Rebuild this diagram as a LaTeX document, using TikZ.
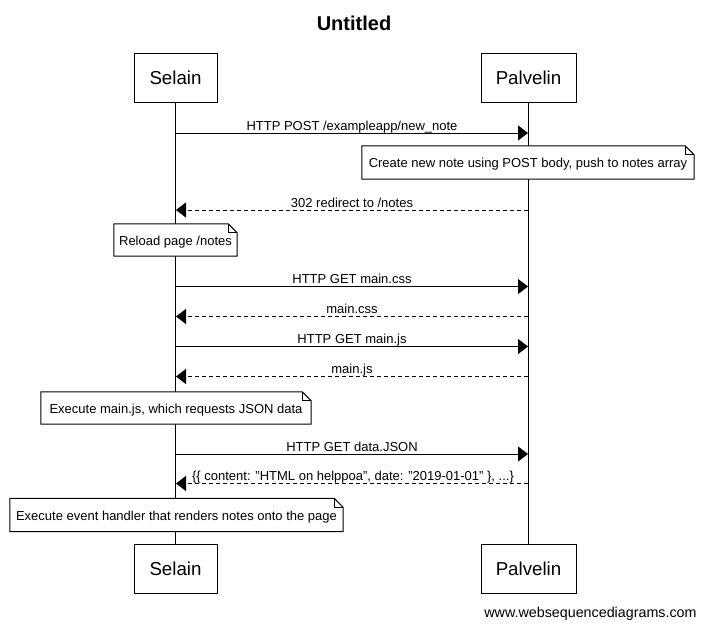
\documentclass[tikz,border=0pt]{standalone}
\usepackage{fontspec}
\setmainfont{Liberation Sans}
\usetikzlibrary{arrows.meta}
\newcommand\noteoutline[1]{%
  \draw[line width=1pt] (#1.south west) -- (#1.north west) -- ([xshift=-9pt]#1.north east)
    -- ([yshift=-9pt]#1.north east) -- (#1.south east) -- cycle;
  \draw[line width=1pt] ([xshift=-9pt]#1.north east) |- ([yshift=-9pt]#1.north east);}
\newcommand\qd{\char"22\relax}
\begin{document}
\begin{tikzpicture}[x=1pt,y=-1pt,
  actor/.style={draw,line width=1pt,fill=white,inner sep=0pt,minimum height=49pt,
    font=\fontsize{18.7}{22}\selectfont,text height=13.4pt,text depth=0pt},
  lifeline/.style={line width=1pt},
  msg/.style={line width=1pt,-{Triangle[length=10pt,width=15pt]}},
  reply/.style={msg,dash pattern=on 4pt off 3pt},
  lbl/.style={anchor=base,yshift=3pt,inner sep=0pt,font=\fontsize{13}{15}\selectfont},
  notebox/.style={fill=white,inner sep=0pt,font=\fontsize{13}{15}\selectfont,text height=10pt,text depth=0pt},
]
\useasboundingbox[fill=white] (0,0) rectangle (705,627);
\node[font=\fontsize{20}{24}\selectfont\bfseries,anchor=base] (title) at (354,30) {Untitled};
% actors
\node[actor,minimum width=83pt] (selT) at (175.5,78) {Selain};
\node[actor,minimum width=95pt] (palT) at (528.5,78) {Palvelin};
\node[actor,minimum width=83pt] (selB) at (175.5,568.5) {Selain};
\node[actor,minimum width=95pt] (palB) at (528.5,568.5) {Palvelin};
\draw[lifeline] (selT.south) -- (selB.north);
\draw[lifeline] (palT.south) -- (palB.north);
% message endpoints
\foreach \i/\y in {1/133,2/210,3/286.5,4/316.5,5/346.5,6/376.5,7/454,8/483.5}{
  \coordinate (s\i) at (176,\y);
  \coordinate (p\i) at (528,\y);
}
\draw[msg] (s1) -- node[lbl]{HTTP POST /exampleapp/new\_note} (p1);
\draw[reply] (p2) -- node[lbl]{302 redirect to /notes} (s2);
\draw[msg] (s3) -- node[lbl]{HTTP GET main.css} (p3);
\draw[reply] (p4) -- node[lbl]{main.css} (s4);
\draw[msg] (s5) -- node[lbl]{HTTP GET main.js} (p5);
\draw[reply] (p6) -- node[lbl]{main.js} (s6);
\draw[msg] (s7) -- node[lbl]{HTTP GET data.JSON} (p7);
\draw[reply] (p8) -- node[lbl,xshift=1pt]{\{\{ content: \qd HTML on helppoa\qd, date: \qd 2019-01-01\qd\ \}, ...\}} (s8);
% notes
\node[notebox,minimum width=332pt,minimum height=33pt] (n1) at (528,162.5) {Create new note using POST body, push to notes array};
\noteoutline{n1}
\node[notebox,minimum width=123pt,minimum height=32pt] (n2) at (175.5,240) {Reload page /notes};
\noteoutline{n2}
\node[notebox,minimum width=270pt,minimum height=32pt] (n3) at (176,408) {Execute main.js, which requests JSON data};
\noteoutline{n3}
\node[notebox,minimum width=333pt,minimum height=33pt] (n4) at (176.5,515) {Execute event handler that renders notes onto the page};
\noteoutline{n4}
\node[anchor=base,inner sep=0pt,font=\fontsize{14.3}{17}\selectfont] (wm) at (590.5,617.5) {www.websequencediagrams.com};
\end{tikzpicture}
\end{document}
